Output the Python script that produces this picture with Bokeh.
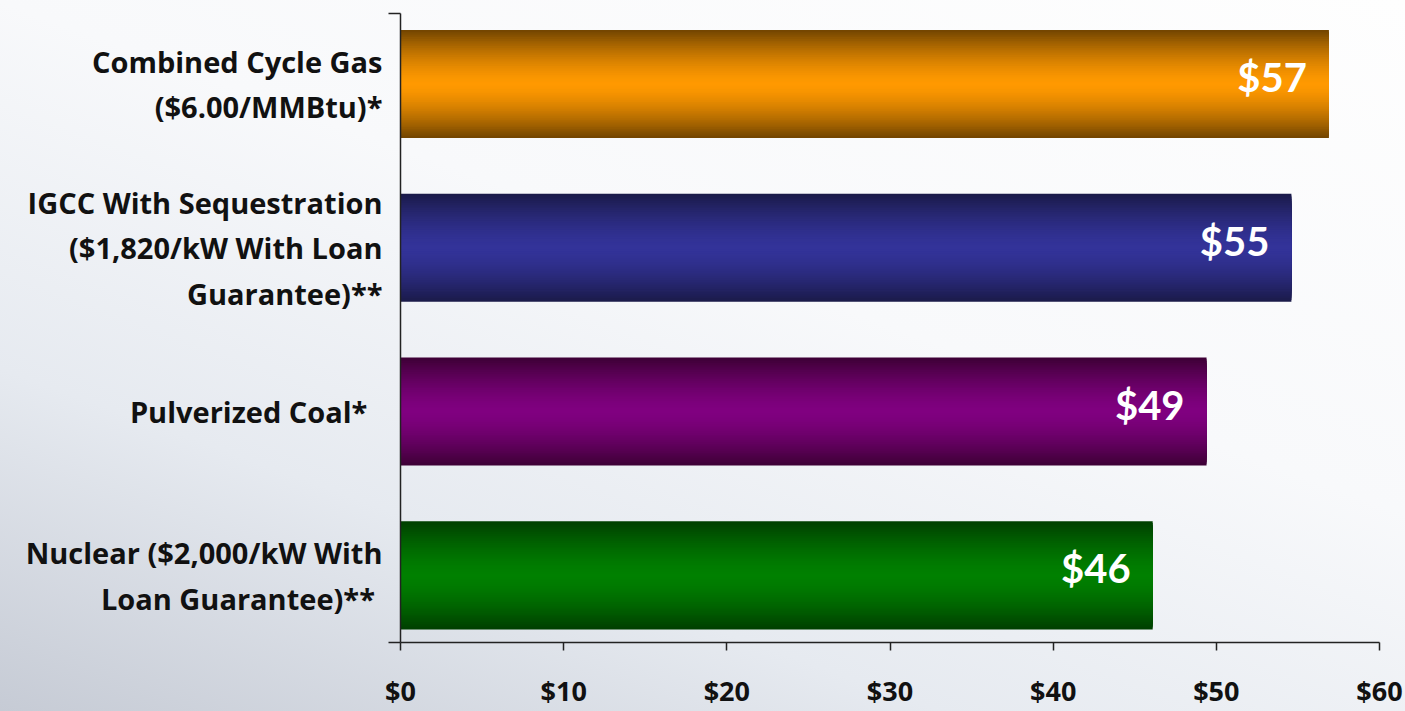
import numpy as np
from bokeh.plotting import figure
from bokeh.models import FixedTicker, ColumnDataSource, Range1d
from bokeh.core.properties import value
from bokeh.embed import file_html
from bokeh.resources import INLINE

# ---- data ----
categories = [
    "Combined Cycle Gas\n($6.00/MMBtu)*",
    "IGCC With Sequestration\n($1,820/kW With Loan\nGuarantee)**",
    "Pulverized Coal*\u00a0\u00a0",
    "Nuclear ($2,000/kW With\nLoan Guarantee)**\u00a0",
]
costs = [56.9, 54.6, 49.4, 46.1]
cost_labels = ["$57", "$55", "$49", "$46"]
x_ticks = [0, 10, 20, 30, 40, 50, 60]
x_tick_labels = ["$0", "$10", "$20", "$30", "$40", "$50", "$60"]

# ---- styles ----
edge_colors = [(112, 68, 0), (26, 26, 72), (60, 0, 52), (0, 62, 0)]
mid_colors = [(255, 153, 0), (51, 51, 153), (128, 0, 128), (0, 128, 0)]
FONT = "Open Sans"
BAR_H = 0.66
M = 30  # nested layers for the vertical shading

n = len(categories)
positions = [n - 1 - i for i in range(n)]

p = figure(width=1405, height=711, output_backend="svg", toolbar_location=None,
           x_range=Range1d(0, 60), y_range=Range1d(-0.41, 3.43),
           min_border_left=400, min_border_right=26, min_border_top=13,
           min_border_bottom=68)
p.background_fill_alpha = 0
p.border_fill_alpha = 0
p.outline_line_color = None
p.grid.grid_line_color = None
p.styles = {"background": "linear-gradient(200deg, #fefefe 0%, #f8f9fb 42%, #e6eaf0 72%, #c6cbd5 100%)"}

# shaded bars: nested layers from full height (dark edge) to the bright centre
rights, ys, hs, cols = [], [], [], []
for k in range(M):
    d = 1 - (k + 0.5) / M
    w = 1 - d ** 1.5
    for i in range(n):
        c = tuple(int(round(edge_colors[i][j] + (mid_colors[i][j] - edge_colors[i][j]) * w)) for j in range(3))
        rights.append(costs[i])
        ys.append(positions[i])
        hs.append(BAR_H * (1 - k / M))
        cols.append("#%02x%02x%02x" % c)
src = ColumnDataSource(dict(right=rights, y=ys, h=hs, color=cols))
p.hbar(y="y", left=0, right="right", height="h", fill_color="color", line_color=None, source=src)

lab = ColumnDataSource(dict(x=costs, y=positions, text=cost_labels))
p.text(x="x", y="y", text="text", source=lab, x_offset=-22, y_offset=-7, text_align="right",
       text_baseline="middle", text_color="white", text_font_size="40px",
       text_font_style="bold", text_font=value("Lato"))

# x axis
xa = p.xaxis[0]
xa.ticker = FixedTicker(ticks=x_ticks)
xa.major_label_overrides = {t: l for t, l in zip(x_ticks, x_tick_labels)}
xa.major_tick_out = 8
xa.major_tick_in = 0
xa.minor_tick_out = 0
xa.minor_tick_in = 0
xa.axis_line_color = "#222222"
xa.axis_line_width = 1.5
xa.major_tick_line_color = "#222222"
xa.major_tick_line_width = 1.5
xa.major_label_standoff = 21
xa.major_label_text_font = FONT
xa.major_label_text_font_size = "27px"
xa.major_label_text_font_style = "bold"
xa.major_label_text_color = "#111111"

# y axis
ya = p.yaxis[0]
ya.ticker = FixedTicker(ticks=positions, minor_ticks=[-0.41, 3.43])
ya.major_label_overrides = {pos: c for pos, c in zip(positions, categories)}
ya.major_tick_out = 0
ya.major_tick_in = 0
ya.minor_tick_out = 12
ya.minor_tick_in = 0
ya.minor_tick_line_color = "#222222"
ya.minor_tick_line_width = 1.5
ya.axis_line_color = "#222222"
ya.axis_line_width = 1.5
ya.major_label_standoff = 6
ya.major_label_text_font = FONT
ya.major_label_text_font_size = "29px"
ya.major_label_text_font_style = "bold"
ya.major_label_text_color = "#111111"
ya.major_label_text_line_height = 1.17

open("out.html", "w").write(file_html(p, INLINE))
